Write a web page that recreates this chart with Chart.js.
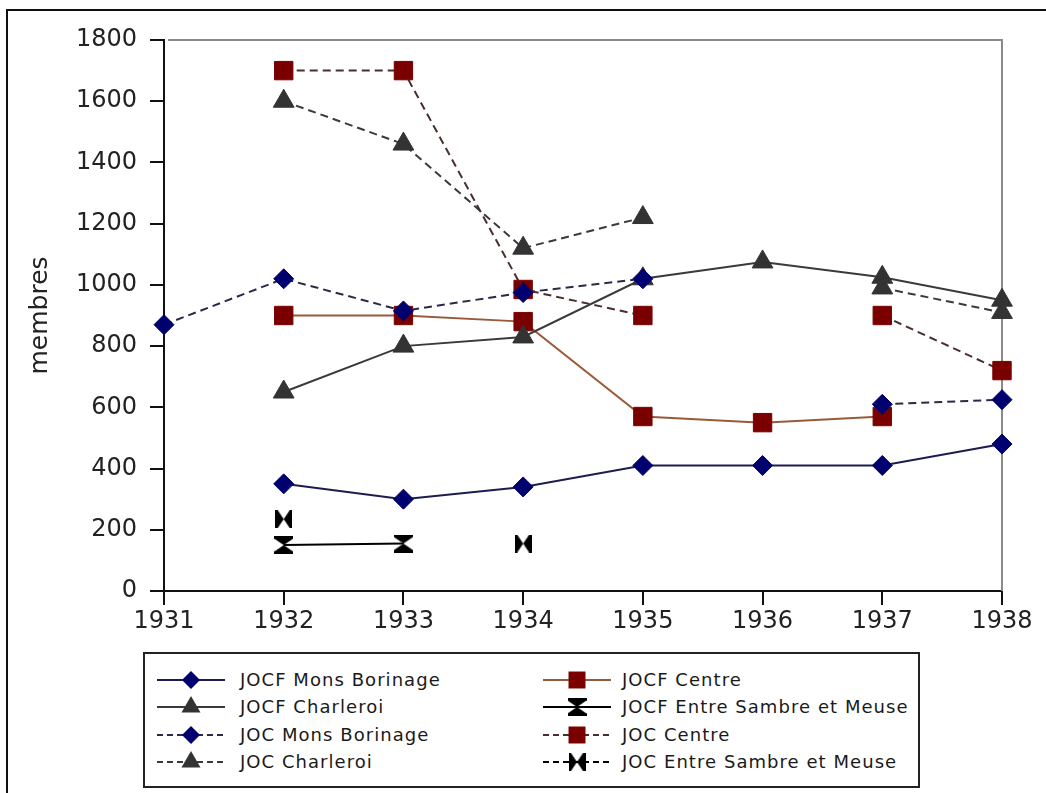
<!DOCTYPE html>
<html><head><meta charset="utf-8">
<script src="https://cdn.jsdelivr.net/npm/chart.js@4"></script>
<style>
html,body{margin:0;padding:0;background:#fff;width:1046px;height:793px;overflow:hidden;font-family:"DejaVu Sans",sans-serif}
#frame{position:absolute;left:6px;top:9px;width:1040px;height:784px;border-left:2px solid #111;border-top:2px solid #111;box-sizing:border-box}
#wrap{position:absolute;left:0;top:0;width:1046px;height:650px}
#legend{position:absolute;left:143px;top:652px;width:777px;height:136px;border:2px solid #222;box-sizing:border-box}
.li{position:absolute;height:26px;line-height:26px;font-size:18px;letter-spacing:1.05px;color:#1a1a1a;white-space:nowrap}
.ls{position:absolute}
</style></head>
<body>
<div id="frame"></div>
<div id="wrap"><canvas id="c" width="1046" height="650"></canvas></div>
<div id="legend"></div>
<div id="items"></div>
<script>
// ---- data ----
const years = ['1931','1932','1933','1934','1935','1936','1937','1938'];
const jocfMons      = [null, 350, 300, 340, 410, 410, 410, 480];
const jocfCentre    = [null, 900, 900, 880, 570, 550, 570, null];
const jocfCharleroi = [null, 650, 800, 830, 1020, 1075, 1025, 950];
const jocfESM       = [null, 150, 155, null, null, null, null, null];
const jocMons       = [870, 1020, 915, 975, 1020, null, 610, 625];
const jocCentre     = [null, 1700, 1700, 985, 900, null, 900, 720];
const jocCharleroi  = [null, 1600, 1460, 1120, 1220, null, 990, 910];
const jocESM        = [null, 235, null, 155, null, null, null, null];
const yTickLabels = ['0','200','400','600','800','1000','1200','1400','1600','1800'];
const yMin = 0, yMax = 1800, yStep = 200;
const seriesNames = ['JOCF Mons Borinage','JOCF Centre','JOCF Charleroi','JOCF Entre Sambre et Meuse',
                     'JOC Mons Borinage','JOC Centre','JOC Charleroi','JOC Entre Sambre et Meuse'];

// ---- marker images ----
function mkHourglass(w,h,color){
  const c=document.createElement('canvas'); c.width=w; c.height=h;
  const g=c.getContext('2d'); g.fillStyle=color; g.beginPath();
  g.moveTo(0,0); g.lineTo(w,0); g.lineTo(w,2.5); g.lineTo(w/2,h/2); g.lineTo(0,2.5); g.closePath();
  g.moveTo(0,h); g.lineTo(w,h); g.lineTo(w,h-2.5); g.lineTo(w/2,h/2); g.lineTo(0,h-2.5); g.closePath();
  g.fill(); return c;
}
function mkBowtie(w,h,color){
  const c=document.createElement('canvas'); c.width=w; c.height=h;
  const g=c.getContext('2d'); g.fillStyle=color; g.beginPath();
  g.moveTo(0,0); g.lineTo(2.5,0); g.lineTo(w/2,h/2); g.lineTo(2.5,h); g.lineTo(0,h); g.closePath();
  g.moveTo(w,0); g.lineTo(w-2.5,0); g.lineTo(w/2,h/2); g.lineTo(w-2.5,h); g.lineTo(w,h); g.closePath();
  g.fill(); return c;
}
const hourglass = mkHourglass(19,18,'#000');
const bowtie = mkBowtie(17,18,'#000');

const NAVY='#00006e', DRED='#7a0000', GRAY='#333333';
const styles = [
  {line:'#1c1c50', dash:[], marker:'rectRot', mc:NAVY, r:10},
  {line:'#9a5a3a', dash:[], marker:'rect', mc:DRED, r:13},
  {line:'#3a3a3a', dash:[], marker:'triangle', mc:GRAY, r:12},
  {line:'#000000', dash:[], marker:hourglass, mc:'#000', r:9},
  {line:'#2a2a48', dash:[8,5], marker:'rectRot', mc:NAVY, r:10},
  {line:'#4a2e2e', dash:[8,5], marker:'rect', mc:DRED, r:13},
  {line:'#3a3a3a', dash:[8,5], marker:'triangle', mc:GRAY, r:12},
  {line:'#000000', dash:[8,5], marker:bowtie, mc:'#000', r:9},
];
const dataArrs = [jocfMons, jocfCentre, jocfCharleroi, jocfESM, jocMons, jocCentre, jocCharleroi, jocESM];
const orders = [2,4,3,1,0,1,2,0];

const datasets = dataArrs.map((d,i)=>({
  label: seriesNames[i], data: d,
  borderColor: styles[i].line, borderWidth: 2, borderDash: styles[i].dash,
  pointStyle: styles[i].marker, pointRadius: styles[i].r, pointHoverRadius: styles[i].r,
  pointBackgroundColor: styles[i].mc, pointBorderColor: styles[i].mc, pointBorderWidth: 1,
  spanGaps: false, clip: false, tension: 0, fill: false, order: orders[i]
}));

const boxLines = {
  id:'boxLines',
  beforeDatasetsDraw(chart){
    const {ctx, chartArea:{left,top,right,bottom}} = chart;
    ctx.save(); ctx.strokeStyle='#8a8a8a'; ctx.lineWidth=2;
    ctx.beginPath(); ctx.moveTo(left+4,top); ctx.lineTo(right,top); ctx.lineTo(right,bottom); ctx.stroke();
    ctx.restore();
  }
};

const tickFont = {family:'DejaVu Sans', size:24};
new Chart(document.getElementById('c'), {
  type:'line',
  data:{labels: years, datasets},
  plugins:[boxLines],
  options:{
    responsive:false, animation:false,
    layout:{padding:{top:40, right:44, left:0, bottom:0}},
    plugins:{legend:{display:false}, tooltip:{enabled:false}},
    scales:{
      x:{type:'category', offset:false,
         grid:{drawOnChartArea:false, drawTicks:true, tickLength:14, color:'#111', lineWidth:2},
         border:{color:'#111', width:2},
         ticks:{font:tickFont, color:'#222', padding:2, maxRotation:0, autoSkip:false},
         afterFit(s){ s.height = 59; }},
      y:{min:yMin, max:yMax,
         grid:{drawOnChartArea:false, drawTicks:true, tickLength:14, color:'#111', lineWidth:2},
         border:{color:'#111', width:2},
         ticks:{stepSize:yStep, font:tickFont, color:'#222', padding:13,
                callback:(v,i)=> yTickLabels[i] ?? String(v)},
         title:{display:true, text:'membres', font:{family:'DejaVu Sans', size:25}, color:'#222', padding:{top:25,bottom:0}},
         afterFit(s){ s.width = 164; }}
    }
  }
});

// ---- legend (HTML) ----
function drawMarker(g, kind, x, y, r, color){
  g.fillStyle=color; g.beginPath();
  if (kind==='rectRot'){ g.moveTo(x-r,y); g.lineTo(x,y-r); g.lineTo(x+r,y); g.lineTo(x,y+r); g.closePath(); g.fill(); }
  else if (kind==='rect'){ const s=Math.SQRT1_2*r; g.fillRect(x-s,y-s,2*s,2*s); }
  else if (kind==='triangle'){ g.moveTo(x,y-r); g.lineTo(x+r*0.866,y+r/2); g.lineTo(x-r*0.866,y+r/2); g.closePath(); g.fill(); }
  else { g.drawImage(kind, x-kind.width/2, y-kind.height/2); }
}
const items = document.getElementById('items');
const rowsY = [680, 707, 735, 762];
const colSample = [155, 541], colText = [240, 622];
seriesNames.forEach((name,i)=>{
  const row = Math.floor(i/2) % 2 + (i>=4 ? 2 : 0);
  const col = i % 2;
  const cy = rowsY[row];
  const cv = document.createElement('canvas');
  cv.width = 72; cv.height = 26; cv.className='ls';
  cv.style.left = colSample[col]+'px'; cv.style.top = (cy-13)+'px';
  const g = cv.getContext('2d');
  const st = styles[i];
  g.strokeStyle = st.line; g.lineWidth = 2; g.setLineDash(st.dash.length ? [6,4] : []);
  g.beginPath(); g.moveTo(2,13); g.lineTo(70,13); g.stroke(); g.setLineDash([]);
  const r = st.marker==='rect' ? 12 : (st.marker==='triangle' ? 11 : 9);
  drawMarker(g, st.marker, 36, 13, r, st.mc);
  items.appendChild(cv);
  const t = document.createElement('div');
  t.className='li'; t.textContent = name;
  t.style.left = colText[col]+'px'; t.style.top = (cy-13)+'px';
  items.appendChild(t);
});
</script>
</body></html>
